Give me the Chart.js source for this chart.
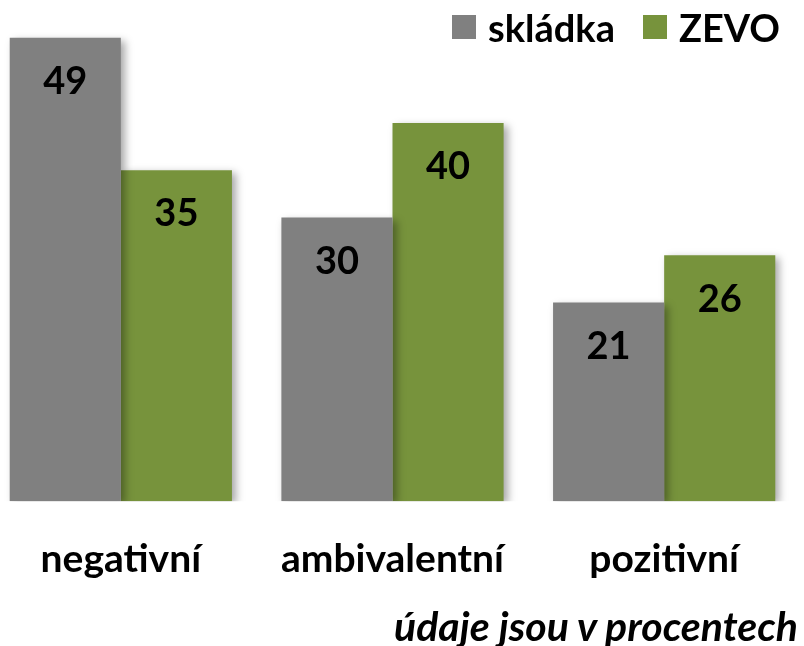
<!DOCTYPE html>
<html lang="cs">
<head>
<meta charset="utf-8">
<title>skládka vs ZEVO</title>
<script src="https://cdn.jsdelivr.net/npm/chart.js@4.4.1/dist/chart.umd.min.js"></script>
<style>
  html, body { margin: 0; padding: 0; background: #fff; overflow: hidden; }
  body { width: 804px; height: 646px; position: relative; font-family: Lato, "Liberation Sans", sans-serif; }
  #obal { position: absolute; left: -15px; top: 0; width: 815px; height: 646px; }
  .legenda { position: absolute; top: 4px; right: 24px; display: flex; align-items: center; font-weight: bold; font-size: 38px; color: #000; }
  .legenda span.box { display: inline-block; width: 24px; height: 24px; margin-right: 12px; }
  .legenda .polozka { display: flex; align-items: center; margin-left: 28px; }
  .poznamka { position: absolute; right: 6px; top: 601px; font-size: 41px; font-weight: bold; font-style: italic; color: #000; }
</style>
</head>
<body>
<div id="obal"><canvas id="graf" width="815" height="646"></canvas></div>
<div class="legenda">
  <div class="polozka"><span class="box" style="background:#808080"></span>skládka</div>
  <div class="polozka"><span class="box" style="background:#77933c"></span>ZEVO</div>
</div>
<div class="poznamka">údaje jsou v procentech</div>
<script>
const kategorie = ["negativní", "ambivalentní", "pozitivní"];
const skladka = [49, 30, 21];
const zevo = [35, 40, 26];

document.addEventListener("DOMContentLoaded", function () {
  const canvas = document.getElementById("graf");
  const pismo = "Lato, 'Liberation Sans', sans-serif";

  // stin pod sloupci
  const stinPlugin = {
    id: "stin",
    beforeDatasetsDraw(chart) {
      const ctx = chart.ctx;
      ctx.save();
      ctx.shadowColor = "rgba(0,0,0,0.35)";
      ctx.shadowBlur = 8;
      ctx.shadowOffsetX = 4;
      ctx.shadowOffsetY = 3;
    },
    afterDatasetsDraw(chart) {
      chart.ctx.restore();
    }
  };

  // hodnoty uvnitr sloupcu
  const hodnotyPlugin = {
    id: "hodnoty",
    afterDraw(chart) {
      const ctx = chart.ctx;
      ctx.save();
      ctx.font = "bold 38px " + pismo;
      ctx.fillStyle = "#000";
      ctx.textAlign = "center";
      ctx.textBaseline = "middle";
      chart.data.datasets.forEach((ds, i) => {
        chart.getDatasetMeta(i).data.forEach((bar, j) => {
          ctx.fillText(String(ds.data[j]), bar.x, bar.y + 44);
        });
      });
      ctx.restore();
    }
  };

  new Chart(canvas, {
    type: "bar",
    data: {
      labels: kategorie,
      datasets: [
        { label: "skládka", data: skladka, backgroundColor: "#808080", borderWidth: 0 },
        { label: "ZEVO", data: zevo, backgroundColor: "#77933c", borderWidth: 0 }
      ]
    },
    options: {
      responsive: false,
      animation: false,
      devicePixelRatio: 1,
      layout: { padding: { top: 0, bottom: 28, left: 0, right: 0 } },
      datasets: { bar: { categoryPercentage: 0.818, barPercentage: 1 } },
      plugins: {
        legend: { display: false },
        tooltip: { enabled: false }
      },
      scales: {
        x: {
          grid: { display: false, drawTicks: false },
          border: { display: false },
          ticks: {
            color: "#000",
            padding: 35,
            font: { family: pismo, size: 39, weight: "bold" }
          }
        },
        y: { display: false, min: 0, max: 53 }
      }
    },
    plugins: [stinPlugin, hodnotyPlugin]
  });
});
</script>
</body>
</html>
